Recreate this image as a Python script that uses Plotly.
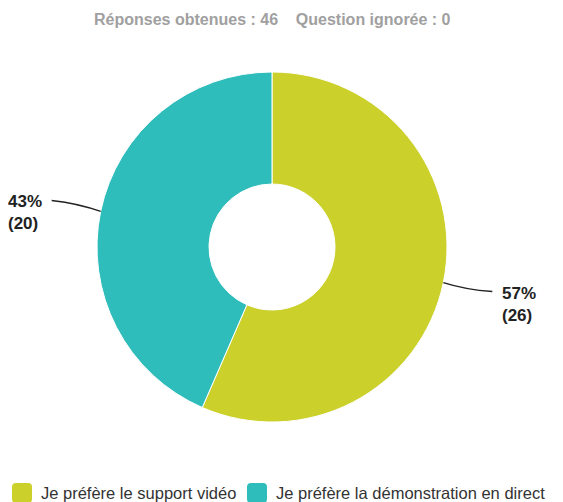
import math
import plotly.graph_objects as go

labels = ["Je préfère le support vidéo", "Je préfère la démonstration en direct"]
counts = [26, 20]
colors = ["#CBD02B", "#2FBDBB"]
answered = 46
skipped = 0

W, H = 563, 502
OFF = 8  # page body margin
FW, FH = W - OFF, H - OFF
cx, cy, R = 272, 247, 175  # pie centre and radius in px (page coords)


def px(x):
    return (x - OFF) / FW


def py(y):
    return 1 - (y - OFF) / FH


fig = go.Figure()
fig.add_trace(go.Pie(
    labels=labels, values=counts, hole=0.36, sort=False, direction="clockwise",
    rotation=0, textinfo="none", hoverinfo="label+percent+value",
    marker=dict(colors=colors, line=dict(color="white", width=1)),
    domain=dict(x=[px(cx - R), px(cx + R)], y=[py(cy + R), py(cy - R)]),
    showlegend=False,
))

total = sum(counts)
start = 0.0
annotations = []
shapes = []
for c in counts:
    frac = c / total
    mid = (start + frac / 2) * 2 * math.pi
    start += frac
    sx = cx + R * math.sin(mid)
    sy = cy - R * math.cos(mid)
    side = 1 if math.sin(mid) >= 0 else -1
    ex = sx + side * 49
    ey = sy + (9 if side > 0 else -11)
    mx = sx + side * 22
    my = sy + (7 if side > 0 else -8)
    shapes.append(dict(type="path", xref="paper", yref="paper",
                       path=f"M{px(sx)},{py(sy)} Q{px(mx)},{py(my)} {px(ex)},{py(ey)}",
                       line=dict(color="#222222", width=1.5)))
    pct = round(frac * 100)
    annotations.append(dict(
        x=px(ex + side * 8), y=py(ey - 10), xref="paper", yref="paper",
        xanchor="left" if side > 0 else "right", yanchor="top", showarrow=False,
        align="left", text=f"<b>{pct}%<br>({c})</b>",
        font=dict(family="Liberation Sans, Arial, sans-serif", size=17, color="#222222"),
    ))

# title
annotations.append(dict(
    x=px(272), y=py(19), xref="paper", yref="paper", xanchor="center", yanchor="middle",
    showarrow=False,
    text=f"<b>Réponses obtenues : {answered}\u00a0\u00a0\u00a0\u00a0Question ignorée : {skipped}</b>",
    font=dict(family="Liberation Sans, Arial, sans-serif", size=16, color="#A0A0A0"),
))

# custom legend
leg_x = [12, 247]
leg_y = 493
s = 20
r = 4
for lx, lab, col in zip(leg_x, labels, colors):
    x0, x1 = lx, lx + s
    y0, y1 = leg_y - s / 2, leg_y + s / 2
    path = (f"M{px(x0 + r)},{py(y0)} L{px(x1 - r)},{py(y0)} Q{px(x1)},{py(y0)} {px(x1)},{py(y0 + r)} "
            f"L{px(x1)},{py(y1 - r)} Q{px(x1)},{py(y1)} {px(x1 - r)},{py(y1)} "
            f"L{px(x0 + r)},{py(y1)} Q{px(x0)},{py(y1)} {px(x0)},{py(y1 - r)} "
            f"L{px(x0)},{py(y0 + r)} Q{px(x0)},{py(y0)} {px(x0 + r)},{py(y0)} Z")
    shapes.append(dict(type="path", xref="paper", yref="paper", path=path,
                       fillcolor=col, line=dict(width=0)))
    annotations.append(dict(
        x=px(lx + s + 7), y=py(leg_y), xref="paper", yref="paper", xanchor="left",
        yanchor="middle", showarrow=False, text=lab,
        font=dict(family="Liberation Sans, Arial, sans-serif", size=16.5, color="#333333"),
    ))

fig.update_layout(
    width=FW, height=FH, margin=dict(l=0, r=0, t=0, b=0),
    paper_bgcolor="white", plot_bgcolor="white",
    annotations=annotations, shapes=shapes,
)
fig.write_html("out.html")
